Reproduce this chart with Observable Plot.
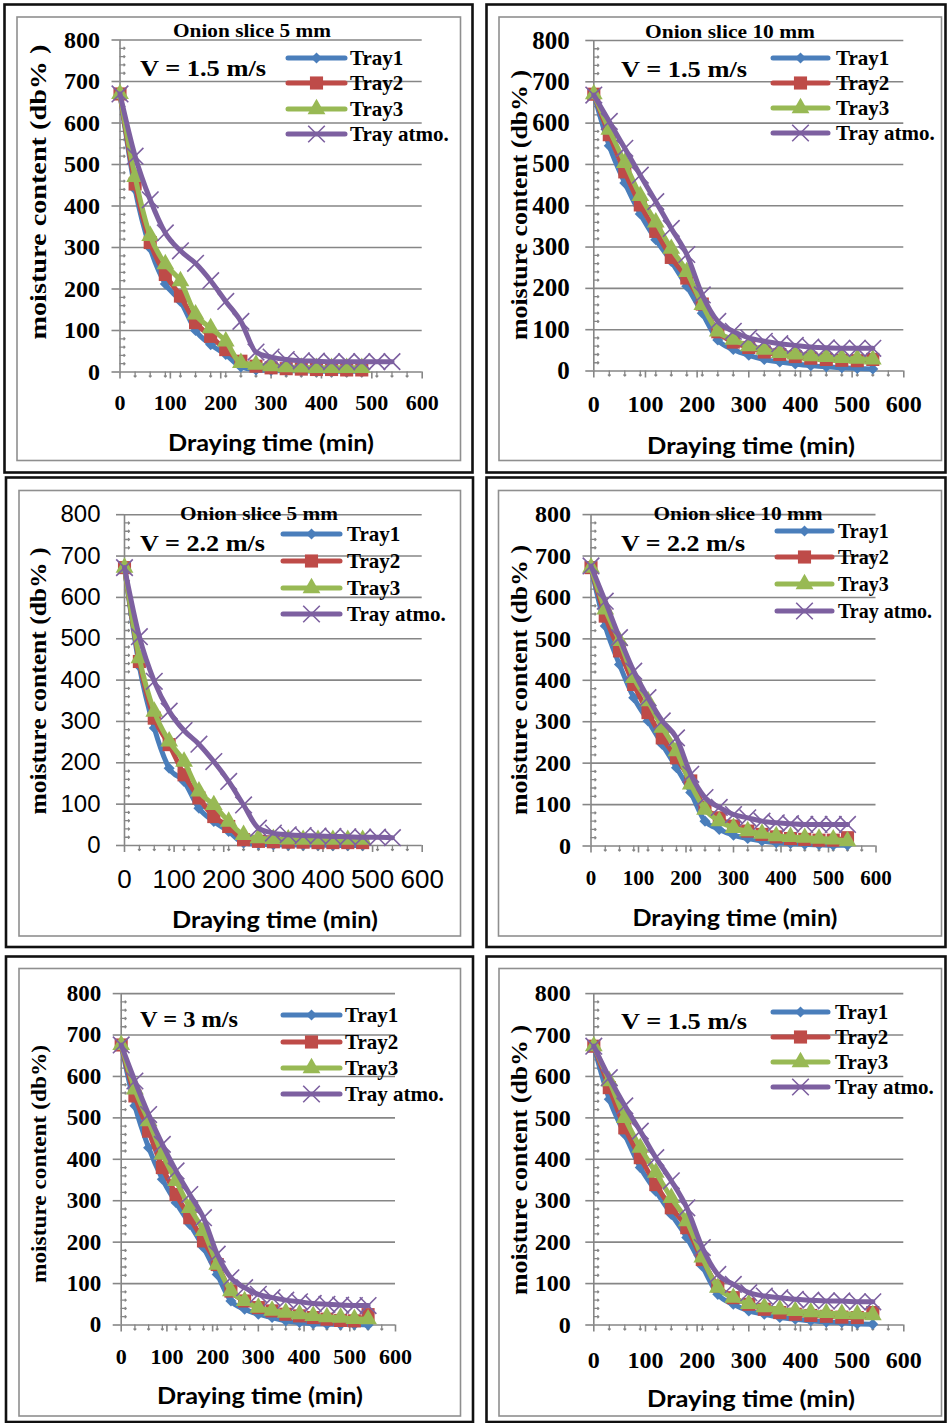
<!DOCTYPE html>
<html><head><meta charset="utf-8">
<script src="https://cdn.jsdelivr.net/npm/d3@7"></script>
<script src="https://cdn.jsdelivr.net/npm/@observablehq/plot@0.6"></script>
<style>
body{margin:0;background:#fff;}
#page{position:relative;width:947px;height:1423px;overflow:hidden;background:#fff;}
</style></head><body><div id="page"></div>
<script>
// ---------------- DATA ----------------
const times = [0, 30, 60, 90, 120, 150, 180, 210, 240, 270, 300, 330, 360, 390, 420, 450, 480, 510, 540];
const seriesNames = ["Tray1", "Tray2", "Tray3", "Tray atmo."];
const xTicks = [0, 100, 200, 300, 400, 500, 600];
const yTicks = [0, 100, 200, 300, 400, 500, 600, 700, 800];
const xMinorTicks = [30, 60, 90, 120, 150, 180, 210, 240, 270, 330, 360, 390, 420, 450, 480, 510, 540, 570];
const yMinorTicks = [20, 40, 60, 80, 120, 140, 160, 180, 220, 240, 260, 280, 320, 340, 360, 380, 420, 440, 460, 480, 520, 540, 560, 580, 620, 640, 660, 680, 720, 740, 760, 780];
const panelTitles = ["Onion slice 5 mm", "Onion slice 10 mm", "Onion slice 5 mm", "Onion slice 10 mm", "", ""];
const speedLabels = ["V = 1.5 m/s", "V = 1.5 m/s", "V = 2.2 m/s", "V = 2.2 m/s", "V = 3 m/s", "V = 1.5 m/s"];
const yAxisTitles = ["moisture content (db% )", "moisture content (db% )", "moisture content (db% )", "moisture content (db% )", "moisture content (db%)", "moisture content (db% )"];
const xAxisTitle = "Draying time (min)";

// Panel 1: onion slice 5 mm, V = 1.5 m/s
const p1Tray1 = [670, 440, 298, 212, 170, 100, 66, 42, 12, 5, 4, 3, 3, 2, 2, 2, 2];
const p1Tray2 = [670, 453, 312, 235, 183, 119, 86, 54, 26, 14, 10, 8, 7, 6, 6, 5, 5];
const p1Tray3 = [670, 470, 328, 260, 219, 139, 106, 74, 22, 18, 14, 12, 11, 10, 10, 10, 10];
const p1Atmo  = [670, 520, 415, 335, 292, 262, 220, 170, 122, 48, 36, 30, 27, 26, 25, 25, 25, 25, 25];
// Panel 2: onion slice 10 mm, V = 1.5 m/s
const p2Tray1 = [670, 545, 455, 380, 318, 265, 205, 140, 75, 52, 38, 28, 22, 17, 13, 10, 8, 6, 5];
const p2Tray2 = [670, 572, 482, 402, 338, 275, 225, 162, 95, 70, 57, 46, 40, 35, 31, 28, 26, 25, 28];
const p2Tray3 = [670, 584, 504, 424, 360, 296, 240, 160, 96, 76, 60, 52, 44, 40, 36, 34, 32, 30, 28];
const p2Atmo  = [668, 604, 539, 474, 410, 345, 282, 184, 120, 96, 80, 72, 66, 62, 58, 56, 55, 55, 55];
// Panel 3: onion slice 5 mm, V = 2.2 m/s
const p3Tray1 = [672, 433, 284, 187, 155, 90, 58, 34, 6, 3, 2, 1, 1, 1, 0, 0, 0];
const p3Tray2 = [672, 445, 308, 244, 171, 115, 70, 46, 14, 10, 9, 8, 8, 7, 7, 7, 7];
const p3Tray3 = [672, 453, 324, 252, 203, 131, 98, 58, 26, 18, 16, 15, 14, 14, 14, 14, 14];
const p3Atmo  = [672, 505, 397, 325, 278, 245, 203, 155, 98, 42, 30, 26, 24, 23, 22, 21, 20, 20, 19];
// Panel 4: onion slice 10 mm, V = 2.2 m/s
const p4Tray1 = [672, 531, 438, 358, 302, 245, 189, 129, 60, 40, 26, 18, 12, 8, 6, 4, 3, 2, 2];
const p4Tray2 = [672, 555, 471, 390, 322, 261, 213, 157, 93, 68, 48, 36, 28, 22, 18, 16, 14, 14, 20];
const p4Tray3 = [672, 571, 495, 406, 350, 286, 229, 149, 88, 60, 44, 36, 30, 24, 22, 20, 18, 16, 12];
const p4Atmo  = [676, 591, 503, 422, 358, 302, 261, 173, 117, 93, 76, 68, 60, 56, 54, 52, 52, 52, 52];
// Panel 5: V = 3 m/s
const p5Tray1 = [676, 529, 428, 352, 295, 243, 187, 122, 58, 38, 26, 18, 10, 6, 3, 2, 1, 1, 0];
const p5Tray2 = [676, 553, 468, 380, 315, 259, 203, 146, 82, 58, 42, 34, 26, 22, 18, 14, 11, 10, 25];
const p5Tray3 = [676, 569, 492, 412, 348, 283, 227, 146, 82, 58, 42, 35, 30, 26, 22, 19, 18, 15, 14];
const p5Atmo  = [676, 589, 508, 436, 372, 315, 259, 171, 114, 90, 74, 66, 60, 56, 52, 50, 48, 47, 47];
// Panel 6: V = 1.5 m/s
const p6Tray1 = [673, 545, 460, 380, 323, 267, 211, 142, 74, 50, 34, 26, 18, 14, 10, 7, 6, 3, 2];
const p6Tray2 = [673, 573, 476, 404, 339, 283, 235, 158, 94, 66, 50, 38, 30, 26, 23, 21, 19, 18, 30];
const p6Tray3 = [673, 589, 500, 428, 368, 307, 251, 163, 90, 66, 51, 43, 38, 34, 31, 29, 27, 26, 24];
const p6Atmo  = [673, 597, 529, 468, 404, 348, 283, 187, 122, 98, 78, 70, 66, 62, 60, 58, 58, 56, 56];

const panelSeries = [
  [p1Tray1, p1Tray2, p1Tray3, p1Atmo],
  [p2Tray1, p2Tray2, p2Tray3, p2Atmo],
  [p3Tray1, p3Tray2, p3Tray3, p3Atmo],
  [p4Tray1, p4Tray2, p4Tray3, p4Atmo],
  [p5Tray1, p5Tray2, p5Tray3, p5Atmo],
  [p6Tray1, p6Tray2, p6Tray3, p6Atmo]
];

// ---------------- STYLE / LAYOUT ----------------
const colors = ["#4A7EBB", "#BE4B48", "#98B954", "#7D60A0"];
const symbols = ["diamond2", "square", "triangle", "times"];
const d3symbols = [d3.symbolDiamond2, d3.symbolSquare, d3.symbolTriangle, d3.symbolTimes];
const radii = [5, 7.4, 6.6, 7.6];
const GRID = "#868686";
const SERIF = "'Liberation Serif','Times New Roman',serif";
const SANS = "'Liberation Sans',Arial,sans-serif";
const CAL = "Lato,'Open Sans',sans-serif";

const layout = [
  {outer:[4.5,4.5,472.5,472.5], inner:[17,17,460.5,460.5], x0:119.5, x6:421.7, y8:39.5, y0:371.5,
   yf:[SERIF,"bold",24], yPad:12, xf:[SERIF,"bold",22], xPad:15,
   title:[252,30,158], v:[140,68,126], leg:{x1:288,x2:345,ys:[58,83,109,134],tx:350,size:21,wt:"bold"},
   yt:[38,192,295,24], xt:[271,442,206]},
  {outer:[486.5,4.5,945.5,472.5], inner:[499,17,941.5,460.5], x0:593.3, x6:903.3, y8:40, y0:370.5,
   yf:[SERIF,"bold",25], yPad:16, xf:[SERIF,"bold",24], xPad:17,
   title:[730,31,170], v:[621,69,126], leg:{x1:773,x2:828,ys:[58,83,108,133],tx:836,size:21,wt:"bold"},
   yt:[519,205,270,24], xt:[751,445,208]},
  {outer:[6,477.5,473,947], inner:[19,490.5,460.5,936], x0:124, x6:421.7, y8:513.7, y0:844.5,
   yf:[SANS,"normal",24], yPad:16, xf:[SANS,"normal",26], xPad:17,
   title:[259,513,158], v:[140,543,125], leg:{x1:283,x2:340,ys:[534,561,588,614],tx:347,size:21,wt:"bold"},
   yt:[38,681,267,24], xt:[275,919,206]},
  {outer:[486.5,477.5,945.5,947], inner:[498.5,490.5,941.5,936], x0:590, x6:875, y8:513.6, y0:845,
   yf:[SERIF,"bold",24], yPad:12, xf:[SERIF,"bold",21], xPad:17,
   title:[738,513,169], v:[621,543,124], leg:{x1:777,x2:832,ys:[531,557,584,611],tx:838,size:20,wt:"bold"},
   yt:[519,680,270,24], xt:[735,917,205]},
  {outer:[6,956.5,473,1422], inner:[19,968.5,460.5,1416], x0:120.7, x6:395, y8:992.6, y0:1324,
   yf:[SERIF,"bold",23], yPad:12, xf:[SERIF,"bold",22], xPad:16,
   title:[0,0,0], v:[140,1019,98], leg:{x1:283,x2:340,ys:[1015,1042,1068,1094],tx:345,size:21,wt:"bold"},
   yt:[38,1164,238,22], xt:[260,1395,206]},
  {outer:[486.5,956.5,945.5,1422], inner:[499,968.5,941.5,1416], x0:593.3, x6:903.3, y8:992.6, y0:1324,
   yf:[SERIF,"bold",24], yPad:15, xf:[SERIF,"bold",24], xPad:19,
   title:[0,0,0], v:[621,1021,126], leg:{x1:773,x2:828,ys:[1012,1037,1062,1087],tx:835,size:21,wt:"bold"},
   yt:[519,1160,270,24], xt:[751,1398,208]}
];

const page = document.getElementById("page");

layout.forEach((L, i) => {
  const [ix1, iy1, ix2, iy2] = L.inner;
  const W = ix2 - ix1, H = iy2 - iy1;
  const marks = [
    Plot.gridY(yTicks, {stroke: GRID, strokeOpacity: 1, strokeWidth: 1.6}),
    Plot.ruleX([0], {stroke: GRID, strokeWidth: 1.6}),
    Plot.vector(yMinorTicks, {x: () => 0, y: d => d, length: 5, rotate: 90, anchor: "start", stroke: GRID, strokeWidth: 1.3}),
    Plot.vector(xMinorTicks, {x: d => d, y: () => 0, length: 5, rotate: 180, anchor: "start", stroke: GRID, strokeWidth: 1.3}),
    Plot.axisY(yTicks, {tickSize: 8, tickPadding: L.yPad, stroke: GRID, strokeWidth: 1.6, fill: "#000",
      fontFamily: L.yf[0], fontWeight: L.yf[1], fontSize: L.yf[2], label: null}),
    Plot.axisX(xTicks, {tickSize: 7, tickPadding: L.xPad, stroke: GRID, strokeWidth: 1.6, fill: "#000",
      fontFamily: L.xf[0], fontWeight: L.xf[1], fontSize: L.xf[2], label: null})
  ];
  panelSeries[i].forEach((arr, k) => {
    const rows = arr.map((v, j) => ({t: times[j], v, s: seriesNames[k]}));
    marks.push(Plot.line(rows, {x: "t", y: "v", stroke: colors[k], strokeWidth: 5, curve: "monotone-x", strokeLinejoin: "round"}));
    if (k === 3) {
      marks.push(Plot.dot(rows, {x: "t", y: "v", symbol: symbols[k], r: radii[k], stroke: colors[k], fill: "none", strokeWidth: 1.6}));
    } else {
      marks.push(Plot.dot(rows, {x: "t", y: "v", symbol: symbols[k], r: radii[k], fill: colors[k], stroke: "none"}));
    }
  });
  const chart = Plot.plot({
    width: W, height: H,
    marginLeft: L.x0 - ix1, marginRight: ix2 - L.x6,
    marginTop: L.y8 - iy1, marginBottom: iy2 - L.y0,
    x: {domain: [0, 600]}, y: {domain: [0, 800]},
    style: {background: "none", overflow: "visible", maxWidth: "none"},
    marks
  });
  chart.style.position = "absolute";
  chart.style.left = ix1 + "px";
  chart.style.top = iy1 + "px";
  page.appendChild(chart);
});

// overlay: borders, titles, legends
const svg = d3.select(page).append("svg")
  .attr("width", 947).attr("height", 1423)
  .style("position", "absolute").style("left", 0).style("top", 0).style("pointer-events", "none");

layout.forEach((L, i) => {
  const g = svg.append("g");
  const [ox1, oy1, ox2, oy2] = L.outer;
  const [ix1, iy1, ix2, iy2] = L.inner;
  g.append("rect").attr("x", ox1).attr("y", oy1).attr("width", ox2 - ox1).attr("height", oy2 - oy1)
    .attr("fill", "none").attr("stroke", "#111").attr("stroke-width", 2.6);
  g.append("rect").attr("x", ix1).attr("y", iy1).attr("width", ix2 - ix1).attr("height", iy2 - iy1)
    .attr("fill", "none").attr("stroke", "#8f8f8f").attr("stroke-width", 1.6);
  if (panelTitles[i]) {
    g.append("text").text(panelTitles[i])
      .attr("x", L.title[0]).attr("y", L.title[1]).attr("text-anchor", "middle").attr("dominant-baseline", "central")
      .attr("font-family", SERIF).attr("font-weight", "bold").attr("font-size", 19)
      .attr("textLength", L.title[2]).attr("lengthAdjust", "spacingAndGlyphs");
  }
  g.append("text").text(speedLabels[i])
    .attr("x", L.v[0]).attr("y", L.v[1]).attr("dominant-baseline", "central")
    .attr("font-family", SERIF).attr("font-weight", "bold").attr("font-size", 24)
    .attr("textLength", L.v[2]).attr("lengthAdjust", "spacingAndGlyphs");
  // legend
  seriesNames.forEach((name, k) => {
    const y = L.leg.ys[k];
    g.append("line").attr("x1", L.leg.x1).attr("x2", L.leg.x2).attr("y1", y).attr("y2", y)
      .attr("stroke", colors[k]).attr("stroke-width", 5).attr("stroke-linecap", "round");
    const sym = d3.symbol(d3symbols[k], Math.PI * radii[k] * radii[k])();
    const p = g.append("path").attr("d", sym)
      .attr("transform", `translate(${(L.leg.x1 + L.leg.x2) / 2},${y})`);
    if (k === 3) p.attr("fill", "none").attr("stroke", colors[k]).attr("stroke-width", 1.6);
    else p.attr("fill", colors[k]);
    g.append("text").text(name).attr("x", L.leg.tx).attr("y", y).attr("dominant-baseline", "central")
      .attr("font-family", SERIF).attr("font-weight", L.leg.wt).attr("font-size", L.leg.size);
  });
  // axis titles
  g.append("text").text(yAxisTitles[i])
    .attr("transform", `translate(${L.yt[0]},${L.yt[1]}) rotate(-90)`)
    .attr("text-anchor", "middle").attr("dominant-baseline", "central")
    .attr("font-family", SERIF).attr("font-weight", "bold").attr("font-size", L.yt[3])
    .attr("textLength", L.yt[2]).attr("lengthAdjust", "spacingAndGlyphs");
  g.append("text").text(xAxisTitle)
    .attr("x", L.xt[0]).attr("y", L.xt[1]).attr("text-anchor", "middle").attr("dominant-baseline", "central")
    .attr("font-family", CAL).attr("font-weight", "bold").attr("font-size", 22)
    .attr("textLength", L.xt[2]).attr("lengthAdjust", "spacingAndGlyphs");
});
</script>
</body></html>
